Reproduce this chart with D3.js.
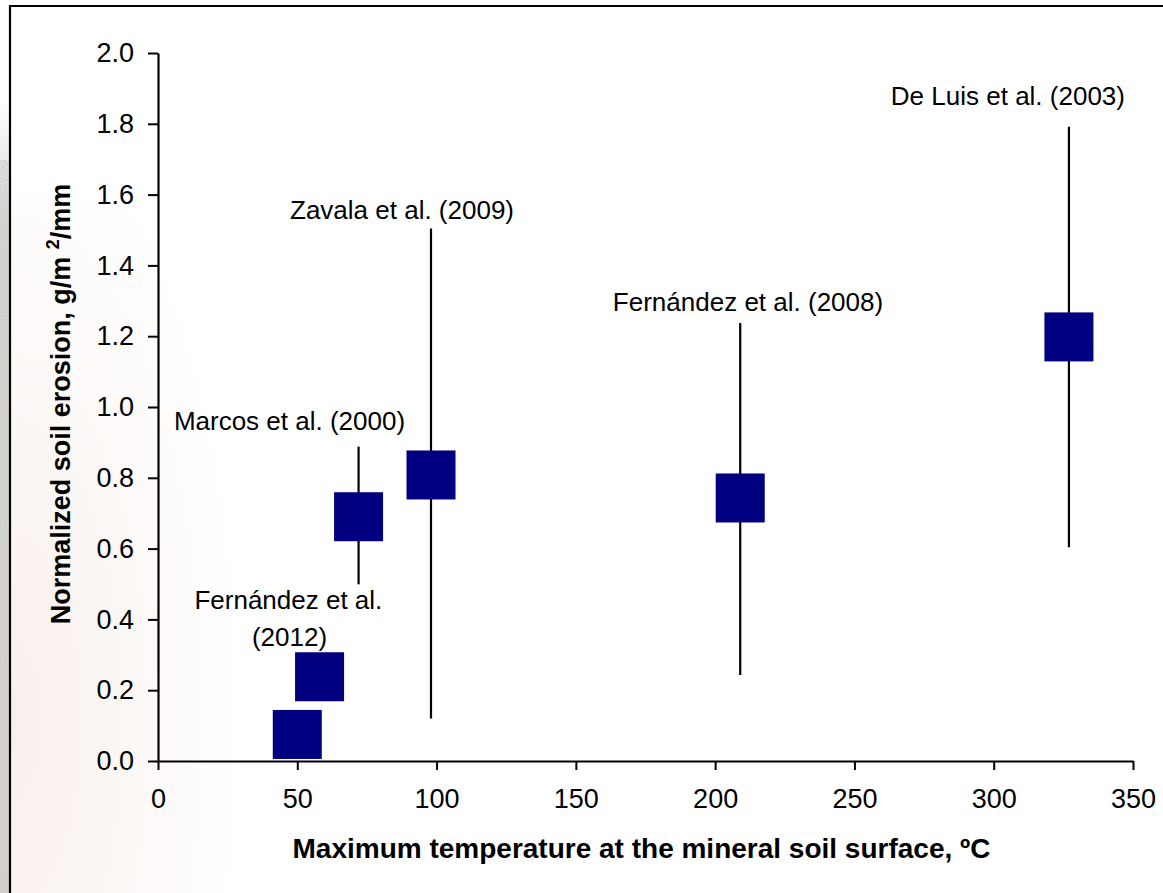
<!DOCTYPE html>
<html>
<head>
<meta charset="utf-8">
<script src="https://cdn.jsdelivr.net/npm/d3@7"></script>
<style>
  html, body { margin: 0; padding: 0; background: #ffffff; }
  svg { display: block; }
  text { font-family: "Liberation Sans", Arial, sans-serif; fill: #000; }
</style>
</head>
<body>
<svg id="chart" width="1163" height="893"></svg>
<script>
// ---- data ----
const studies   = ["Fernández et al. (2012) a", "Fernández et al. (2012) b", "Marcos et al. (2000)", "Zavala et al. (2009)", "Fernández et al. (2008)", "De Luis et al. (2003)"];
const maxTemp   = [50, 58, 72, 98, 209, 327];          // ºC
const erosion   = [0.075, 0.238, 0.69, 0.808, 0.743, 1.198];
const errLow    = [null, null, 0.499, 0.12, 0.243, 0.604];
const errHigh   = [null, null, 0.888, 1.504, 1.237, 1.792];

const xTicks = [0, 50, 100, 150, 200, 250, 300, 350];
const yTicks = [0, 0.2, 0.4, 0.6, 0.8, 1.0, 1.2, 1.4, 1.6, 1.8, 2.0];

// annotation texts and their anchor in data units
const labelText = ["De Luis et al. (2003)", "Zavala et al. (2009)", "Fernández et al. (2008)", "Marcos et al. (2000)", "Fernández et al.", "(2012)"];
const labelX    = [305.1, 87.6, 211.8, 47.2, 46.8, 47.2];
const labelY    = [1.852, 1.532, 1.272, 0.936, 0.429, 0.325];

// ---- drawing ----
const svg = d3.select("#chart");
const defs = svg.append("defs");

const filt = defs.append("filter").attr("id", "grain").attr("x", 0).attr("y", 0).attr("width", "100%").attr("height", "100%");
filt.append("feTurbulence").attr("type", "fractalNoise").attr("baseFrequency", 0.45).attr("numOctaves", 2).attr("seed", 3).attr("result", "n");
filt.append("feColorMatrix").attr("type", "matrix")
  .attr("values", "0 0 0 0 0.62  0 0 0 0 0.62  0 0 0 0 0.60  0 0 0 -1.5 1.3");

const wash = defs.append("radialGradient").attr("id", "wash")
  .attr("cx", 0).attr("cy", 0.75).attr("r", 0.9);
wash.append("stop").attr("offset", 0).attr("stop-color", "#dcae9c").attr("stop-opacity", 0.20);
wash.append("stop").attr("offset", 0.55).attr("stop-color", "#dcae9c").attr("stop-opacity", 0.08);
wash.append("stop").attr("offset", 1).attr("stop-color", "#dcae9c").attr("stop-opacity", 0);

// background texture strip on the left and faint wash inside the frame
const strip = defs.append("linearGradient").attr("id", "strip").attr("x1", 0).attr("x2", 0).attr("y1", 0).attr("y2", 1);
strip.append("stop").attr("offset", 0).attr("stop-color", "#ffffff");
strip.append("stop").attr("offset", 0.15).attr("stop-color", "#d8d6d2");
strip.append("stop").attr("offset", 1).attr("stop-color", "#d2d0cc");
svg.append("rect").attr("x", 0).attr("y", 100).attr("width", 10).attr("height", 793).attr("fill", "url(#strip)");
svg.append("rect").attr("x", 0).attr("y", 160).attr("width", 10).attr("height", 733).attr("filter", "url(#grain)");
svg.append("rect").attr("x", 11).attr("y", 200).attr("width", 260).attr("height", 693).attr("fill", "url(#wash)");

// frame
svg.append("path").attr("d", "M10,893 V6 H1163").attr("fill", "none").attr("stroke", "#000").attr("stroke-width", 2.2);

const x = d3.scaleLinear().domain([0, 350]).range([158, 1133]);
const y = d3.scaleLinear().domain([0, 2]).range([761, 53]);

// axes
const gx = svg.append("g").attr("transform", `translate(0,${y(0)})`)
  .call(d3.axisBottom(x).tickValues(xTicks).tickSize(9).tickPadding(19).tickSizeOuter(0));
const gy = svg.append("g").attr("transform", `translate(${x(0)},0)`)
  .call(d3.axisLeft(y).tickValues(yTicks).tickSize(10).tickPadding(14).tickSizeOuter(0).tickFormat(d3.format(".1f")));
[gx, gy].forEach(g => {
  g.select(".domain").attr("stroke", "#000").attr("stroke-width", 2.2);
  g.selectAll(".tick line").attr("stroke", "#000").attr("stroke-width", 2);
  g.selectAll(".tick text").attr("font-size", 27).attr("font-family", "Liberation Sans, Arial, sans-serif").attr("fill", "#000");
});

// error bars
const idx = d3.range(maxTemp.length).filter(i => errLow[i] !== null);
svg.append("g").selectAll("line").data(idx).join("line")
  .attr("x1", i => x(maxTemp[i])).attr("x2", i => x(maxTemp[i]))
  .attr("y1", i => y(errLow[i])).attr("y2", i => y(errHigh[i]))
  .attr("stroke", "#000").attr("stroke-width", 2.2);

// square markers
const S = 49;
svg.append("g").selectAll("rect").data(d3.range(maxTemp.length)).join("rect")
  .attr("x", i => x(maxTemp[i]) - S / 2).attr("y", i => y(erosion[i]) - S / 2)
  .attr("width", S).attr("height", S).attr("fill", "#000080");

// annotations
svg.append("g").selectAll("text").data(labelText).join("text")
  .attr("x", (d, i) => x(labelX[i])).attr("y", (d, i) => y(labelY[i]))
  .attr("text-anchor", "middle").attr("font-size", 26).text(d => d);

// axis titles
svg.append("text").attr("x", (x(0) + x(350)) / 2 - 4).attr("y", 858)
  .attr("text-anchor", "middle").attr("font-size", 28).attr("font-weight", "bold")
  .text("Maximum temperature at the mineral soil surface, ºC");

const yt = svg.append("text").attr("transform", "translate(70,404) rotate(-90)")
  .attr("text-anchor", "middle").attr("font-size", 27).attr("font-weight", "bold");
yt.append("tspan").text("Normalized soil erosion, g/m ");
yt.append("tspan").attr("font-size", 18).attr("dy", -11).text("2");
yt.append("tspan").attr("dy", 11).text("/mm");
</script>
</body>
</html>
